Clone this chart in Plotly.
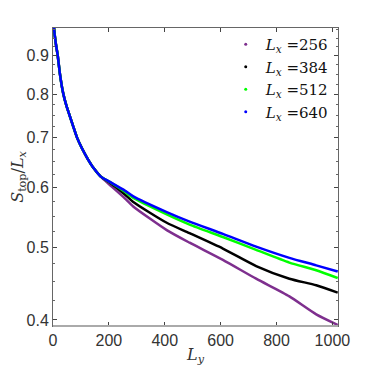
import plotly.graph_objects as go

# shared early part of the curves (all Lx coincide here)
ly_head = [1, 3, 6, 10, 17, 25, 37, 48, 59, 72, 86, 104, 124, 146, 171]
s_head = [1.0, 0.985, 0.96, 0.935, 0.90, 0.85, 0.80, 0.772, 0.75, 0.725, 0.70,
          0.677, 0.656, 0.637, 0.621]

# where the curves split
ly_tail = [200, 257, 286, 407, 489, 608, 727, 846, 942, 1019]
s_256 = [0.607, 0.581, 0.567, 0.527, 0.507, 0.481, 0.454, 0.430, 0.407, 0.394]
s_384 = [0.611, 0.588, 0.575, 0.539, 0.522, 0.498, 0.472, 0.454, 0.445, 0.435]
s_512 = [0.612, 0.593, 0.582, 0.553, 0.536, 0.516, 0.496, 0.477, 0.466, 0.455]
s_640 = [0.612, 0.595, 0.585, 0.557, 0.541, 0.521, 0.501, 0.484, 0.473, 0.464]

series = [("256", s_256, "#7E2F8E"), ("384", s_384, "black"),
          ("512", s_512, "#00FF00"), ("640", s_640, "#0000FF")]

x_ticks = [0, 200, 400, 600, 800, 1000]
y_ticks = [0.4, 0.5, 0.6, 0.7, 0.8, 0.9]
y_minor = [0.425, 0.45, 0.475, 0.525, 0.55, 0.575, 0.625, 0.65, 0.675,
           0.725, 0.75, 0.775, 0.825, 0.85, 0.875, 0.925, 0.95, 0.975]

fig = go.Figure()
for lx, ys, col in series:
    fig.add_trace(go.Scatter(x=ly_head + ly_tail, y=s_head + ys, mode="lines",
                             line=dict(color=col, width=2.5, shape="spline", smoothing=0.6),
                             showlegend=False))
# legend entries are drawn as small dots, like the original
for lx, ys, col in series:
    fig.add_trace(go.Scatter(x=[None], y=[None], mode="markers",
                             marker=dict(color=col, size=3),
                             name=f"<i>L<sub>x</sub></i> ={lx}"))

serif = "DejaVu Serif"
# page body adds an 8px offset, margins are set to compensate
fig.update_layout(
    width=374, height=374,
    margin=dict(l=45, r=44, t=20, b=56),
    plot_bgcolor="white", paper_bgcolor="white",
    font=dict(family="Liberation Sans, Arial", size=16, color="#333"),
    legend=dict(x=0.985, y=1.0, xanchor="right", yanchor="top",
                bgcolor="rgba(0,0,0,0)", font=dict(family=serif, size=15, color="#111"),
                tracegroupgap=0, itemwidth=30),
    shapes=[dict(type="line", xref="paper", yref="paper", x0=0, x1=1, y0=0, y1=0,
                 line=dict(color="#aaa", width=2))],
)
fig.update_xaxes(range=[0, 1020], tickvals=x_ticks, ticks="inside", ticklen=4,
                 showline=True, linecolor="#666", linewidth=1, mirror="ticks",
                 showgrid=False, zeroline=False, automargin=False,
                 title=dict(text="<i>L<sub>y</sub></i>", font=dict(family=serif, size=16),
                            standoff=0))
fig.update_yaxes(type="log", range=[-0.406, -0.0088], tickvals=y_ticks,
                 ticktext=[str(v) for v in y_ticks], ticks="inside", ticklen=4,
                 minor=dict(tickvals=y_minor, ticks="inside", ticklen=2, tickcolor="#666"),
                 showline=True, linecolor="#666", linewidth=1, mirror="ticks",
                 showgrid=False, zeroline=False, automargin=False,
                 title=dict(text="<i>S</i><sub>top</sub>/<i>L<sub>x</sub></i>",
                            font=dict(family=serif, size=16), standoff=4))

fig.write_html("out.html")
